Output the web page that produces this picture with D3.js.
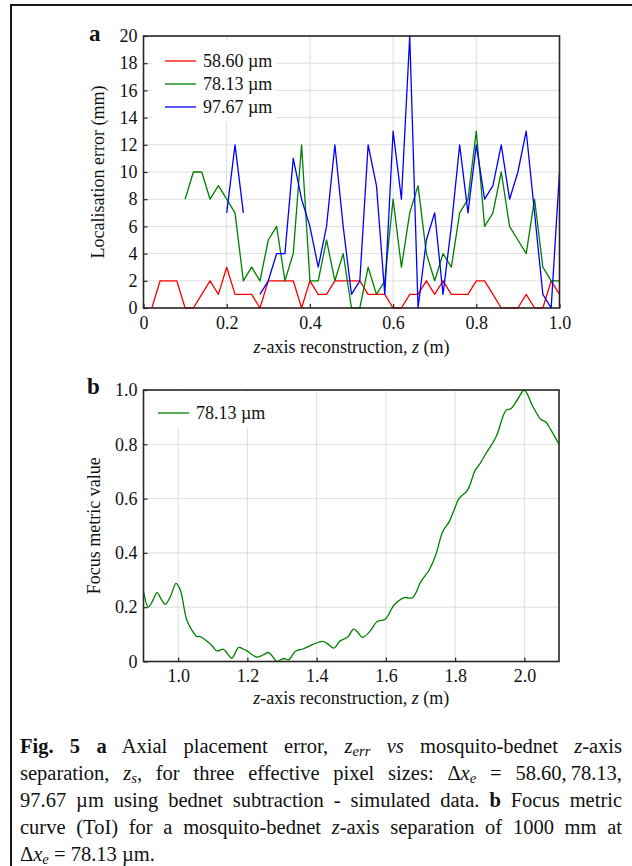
<!DOCTYPE html>
<html>
<head>
<meta charset="utf-8">
<script src="https://cdn.jsdelivr.net/npm/d3@7"></script>
<style>
  body { margin: 0; background: #fff; }
  #wrap { position: relative; width: 632px; height: 866px; overflow: hidden; }
  svg { position: absolute; left: 0; top: 0; }
  .cap { position: absolute; left: 20px; width: 602px; font-family: "Liberation Serif", "Times New Roman", serif;
         font-size: 20.5px; line-height: 22px; color: #111; text-align: justify; text-align-last: justify; }
  .cap.last { text-align-last: left; }
  .cap sub { font-size: 0.72em; vertical-align: -0.2em; line-height: 0; }
</style>
</head>
<body>
<div id="wrap">
<svg id="chart" width="632" height="866"></svg>
</div>
<script>
// panel a : localisation error vs z (every 0.02 m)
const zRed = [0.02,0.04,0.06,0.08,0.10,0.12,0.14,0.16,0.18,0.20,0.22,0.24,0.26,0.28,0.30,0.32,0.34,0.36,0.38,0.40,
              0.42,0.44,0.46,0.48,0.50,0.52,0.54,0.56,0.58,0.60,0.62,0.64,0.66,0.68,0.70,0.72,0.74,0.76,0.78,0.80,
              0.82,0.84,0.86,0.88,0.90,0.92,0.94,0.96,0.98,1.00];
const errRed = [0,2,2,2,0,0,1,2,1,3,1,1,1,0,2,2,2,2,0,2,
                1,1,2,2,2,2,1,1,1,0,0,1,1,2,1,2,1,1,1,2,
                2,1,0,0,0,1,0,0,2,1];

const zGreen = [0.10,0.12,0.14,0.16,0.18,0.20,0.22,0.24,0.26,0.28,0.30,0.32,0.34,0.36,0.38,0.40,
                0.42,0.44,0.46,0.48,0.50,0.52,0.54,0.56,0.58,0.60,0.62,0.64,0.66,0.68,0.70,0.72,0.74,0.76,0.78,0.80,
                0.82,0.84,0.86,0.88,0.90,0.92,0.94,0.96,0.98,1.00];
const errGreen = [8,10,10,8,9,8,7,2,3,2,5,6,2,4,12,2,
                  2,5,2,4,0,0,3,1,2,8,3,7,9,4,2,4,3,7,8,13,
                  6,7,10,6,5,4,8,3,2,2];

const zBlue = [0.20,0.22,0.24,0.26,0.28,0.30,0.32,0.34,0.36,0.38,0.40,
               0.42,0.44,0.46,0.48,0.50,0.52,0.54,0.56,0.58,0.60,0.62,0.64,0.66,0.68,0.70,0.72,0.74,0.76,0.78,0.80,
               0.82,0.84,0.86,0.88,0.90,0.92,0.94,0.96,0.98,1.00];
const errBlue = [7,12,7,null,1,2,4,4,11,8,6,
                 3,6,12,6,1,2,12,9,1,13,8,20,0,5,7,1,6,12,7,12,
                 8,9,12,8,10,13,7,1,0,10];

const seriesNames = ["58.60 µm", "78.13 µm", "97.67 µm"];
const seriesColors = ["#ff0000", "#008000", "#0000ff"];

const xTicksA = [0,0.2,0.4,0.6,0.8,1.0];
const yTicksA = [0,2,4,6,8,10,12,14,16,18,20];

// panel b : focus metric curve
const zFocus = [0.900,0.914,0.927,0.939,0.951,0.963,0.978,0.994,1.006,1.025,1.040,1.054,1.064,1.076,1.088,1.100,1.112,1.131,1.143,
                1.155,1.175,1.188,1.199,1.214,1.228,1.245,1.261,1.273,1.285,1.305,1.319,1.338,1.362,1.391,1.418,1.435,1.449,
                1.468,1.490,1.507,1.520,1.532,1.553,1.575,1.598,1.624,1.653,1.677,1.701,1.725,1.744,1.764,1.783,1.797,
                1.811,1.836,1.858,1.869,1.889,1.918,1.947,1.961,1.980,2.000,2.024,2.048,2.062,2.077,2.100];
const focusVal = [0.258,0.200,0.225,0.254,0.230,0.211,0.240,0.288,0.264,0.153,0.115,0.092,0.092,0.082,0.070,0.055,0.039,0.045,0.028,
                  0.012,0.052,0.046,0.039,0.025,0.016,0.024,0.033,0.018,0.000,0.011,0.006,0.037,0.047,0.064,0.074,0.062,0.049,
                  0.076,0.090,0.119,0.106,0.089,0.110,0.147,0.156,0.208,0.235,0.235,0.294,0.337,0.392,0.478,0.515,0.558,
                  0.600,0.631,0.705,0.723,0.766,0.827,0.925,0.931,0.965,0.999,0.940,0.891,0.882,0.852,0.800];
const focusName = "78.13 µm";
const xTicksB = [1.0,1.2,1.4,1.6,1.8,2.0];
const yTicksB = [0,0.2,0.4,0.6,0.8,1.0];

const svg = d3.select("#chart");
const serif = "Liberation Serif, Times New Roman, serif";
const frameColor = "#2b2626";

// outer frame of the figure
svg.append("path")
    .attr("d", "M11,900 L11,5 L700,5")
    .attr("fill", "none")
    .attr("stroke", "#1a1a1a")
    .attr("stroke-width", 2);

function drawPanel(opt) {
    const g = svg.append("g");
    const x = opt.x, y = opt.y;
    const [x0, x1] = x.range();
    const [y0, y1] = y.range();

    // grid
    g.selectAll(".gx").data(opt.xTicks).enter().append("line")
        .attr("x1", d => x(d)).attr("x2", d => x(d))
        .attr("y1", y1).attr("y2", y0)
        .attr("stroke", "#dedede").attr("stroke-width", 1);
    g.selectAll(".gy").data(opt.yTicks).enter().append("line")
        .attr("x1", x0).attr("x2", x1)
        .attr("y1", d => y(d)).attr("y2", d => y(d))
        .attr("stroke", "#dedede").attr("stroke-width", 1);

    opt.draw(g);

    // legend box
    g.append("rect")
        .attr("x", opt.legend.x).attr("y", opt.legend.y)
        .attr("width", opt.legend.w).attr("height", opt.legend.h)
        .attr("fill", "#fff");
    opt.legend.items.forEach((it, i) => {
        const ly = opt.legend.y0 + i * 23;
        g.append("line")
            .attr("x1", opt.legend.lx).attr("x2", opt.legend.lx + 31)
            .attr("y1", ly).attr("y2", ly)
            .attr("stroke", it.color).attr("stroke-width", 1.3);
        g.append("text")
            .attr("x", opt.legend.lx + 38).attr("y", ly + 6)
            .style("font-family", serif).style("font-size", "18px").style("fill", "#111")
            .text(it.name);
    });

    // axes with inward ticks
    const xa = g.append("g").attr("transform", `translate(0,${y0})`)
        .call(d3.axisBottom(x).tickValues(opt.xTicks).tickFormat(opt.xFmt).tickSize(-4).tickPadding(8));
    const ya = g.append("g").attr("transform", `translate(${x0},0)`)
        .call(d3.axisLeft(y).tickValues(opt.yTicks).tickFormat(opt.yFmt).tickSize(-4).tickPadding(6));
    [xa, ya].forEach(a => {
        a.select(".domain").remove();
        a.selectAll(".tick line").attr("stroke", frameColor).attr("stroke-width", 1.2);
        a.selectAll("text").style("font-family", serif).style("font-size", "18px").style("fill", "#111");
    });

    // plot frame
    g.append("rect")
        .attr("x", x0).attr("y", y1).attr("width", x1 - x0).attr("height", y0 - y1)
        .attr("fill", "none").attr("stroke", frameColor).attr("stroke-width", 1.6);

    // y label
    g.append("text")
        .attr("transform", `translate(${opt.yLabelX},${(y0 + y1) / 2}) rotate(-90)`)
        .attr("text-anchor", "middle")
        .style("font-family", serif).style("font-size", "18px").style("fill", "#111")
        .text(opt.yLabel);

    // x label
    const xl = g.append("text")
        .attr("x", (x0 + x1) / 2).attr("y", opt.xLabelY)
        .attr("text-anchor", "middle")
        .style("font-family", serif).style("font-size", "18px").style("fill", "#111");
    xl.append("tspan").style("font-style", "italic").text("z");
    xl.append("tspan").text("-axis reconstruction, ");
    xl.append("tspan").style("font-style", "italic").text("z");
    xl.append("tspan").text(" (m)");

    // panel letter
    g.append("text")
        .attr("x", opt.letterX).attr("y", opt.letterY)
        .style("font-family", serif).style("font-size", "23px").style("font-weight", "bold").style("fill", "#111")
        .text(opt.letter);
}

// ---- panel a
const xA = d3.scaleLinear().domain([0, 1]).range([143.5, 559.5]);
const yA = d3.scaleLinear().domain([0, 20]).range([308, 36]);

drawPanel({
    x: xA, y: yA, xTicks: xTicksA, yTicks: yTicksA,
    xFmt: d => d === 0 ? "0" : d3.format(".1f")(d),
    yFmt: d3.format("d"),
    yLabel: "Localisation error (mm)", yLabelX: 104, xLabelY: 353,
    letter: "a", letterX: 89, letterY: 41,
    legend: {
        x: 152, y: 40, w: 124, h: 82, lx: 165, y0: 61,
        items: seriesNames.map((n, i) => ({ name: n, color: seriesColors[i] }))
    },
    draw: g => {
        const sets = [[zRed, errRed], [zGreen, errGreen], [zBlue, errBlue]];
        sets.forEach(([zs, vs], i) => {
            const pts = zs.map((z, k) => ({ z: z, v: vs[k] }));
            g.append("path")
                .datum(pts)
                .attr("fill", "none")
                .attr("stroke", seriesColors[i])
                .attr("stroke-width", 1.3)
                .attr("stroke-linejoin", "round")
                .attr("d", d3.line().defined(d => d.v !== null).x(d => xA(d.z)).y(d => yA(d.v)));
        });
    }
});

// ---- panel b
const xB = d3.scaleLinear().domain([0.9, 2.1]).range([143.5, 559]);
const yB = d3.scaleLinear().domain([0, 1]).range([661.5, 390]);

drawPanel({
    x: xB, y: yB, xTicks: xTicksB, yTicks: yTicksB,
    xFmt: d3.format(".1f"),
    yFmt: d => d === 0 ? "0" : d3.format(".1f")(d),
    yLabel: "Focus metric value", yLabelX: 100, xLabelY: 704,
    letter: "b", letterX: 87, letterY: 394,
    legend: {
        x: 150, y: 392, w: 122, h: 36, lx: 158, y0: 413,
        items: [{ name: focusName, color: seriesColors[1] }]
    },
    draw: g => {
        const pts = zFocus.map((z, k) => ({ z: z, v: focusVal[k] }));
        g.append("path")
            .datum(pts)
            .attr("fill", "none")
            .attr("stroke", seriesColors[1])
            .attr("stroke-width", 1.3)
            .attr("d", d3.line().curve(d3.curveCatmullRom.alpha(0.5)).x(d => xB(d.z)).y(d => yB(d.v)));
    }
});

// ---- caption
const captionLines = [
    '<b>Fig. 5</b> <b>a</b> Axial placement error, <i>z<sub>err</sub></i> <i>vs</i> mosquito-bednet <i>z</i>-axis',
    'separation, <i>z<sub>s</sub></i>, for three effective pixel sizes: Δ<i>x<sub>e</sub></i> = 58.60,&#8201;78.13,',
    '97.67 µm using bednet subtraction - simulated data. <b>b</b> Focus metric',
    'curve (ToI) for a mosquito-bednet <i>z</i>-axis separation of 1000 mm at',
    'Δ<i>x<sub>e</sub></i> = 78.13 µm.'
];
d3.select("#wrap").selectAll("div.cap")
    .data(captionLines)
    .enter().append("div")
    .attr("class", (d, i) => i === captionLines.length - 1 ? "cap last" : "cap")
    .style("top", (d, i) => (735 + i * 27.1) + "px")
    .html(d => d);
</script>
</body>
</html>
